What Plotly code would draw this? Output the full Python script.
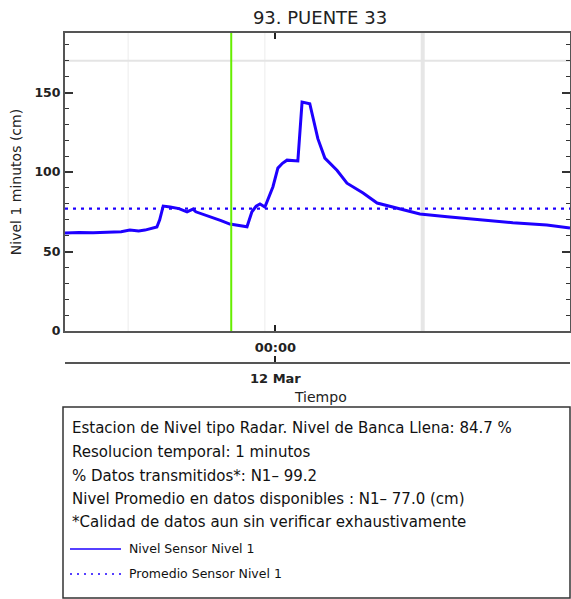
import plotly.graph_objects as go

# ---------------- data ----------------
times = [
    "2024-03-11 14:00", "2024-03-11 14:40", "2024-03-11 15:20", "2024-03-11 16:00",
    "2024-03-11 16:40", "2024-03-11 17:05", "2024-03-11 17:30", "2024-03-11 17:48",
    "2024-03-11 18:10", "2024-03-11 18:22", "2024-03-11 18:30", "2024-03-11 18:40",
    "2024-03-11 19:00", "2024-03-11 19:25", "2024-03-11 19:48", "2024-03-11 20:05",
    "2024-03-11 20:13", "2024-03-11 20:54", "2024-03-11 21:25", "2024-03-11 21:50",
    "2024-03-11 22:15", "2024-03-11 22:39", "2024-03-11 22:53", "2024-03-11 23:05",
    "2024-03-11 23:16", "2024-03-11 23:30", "2024-03-11 23:53", "2024-03-12 00:07",
    "2024-03-12 00:20", "2024-03-12 00:33", "2024-03-12 01:04", "2024-03-12 01:16",
    "2024-03-12 01:38", "2024-03-12 02:01", "2024-03-12 02:21", "2024-03-12 02:56",
    "2024-03-12 03:24", "2024-03-12 04:10", "2024-03-12 04:50", "2024-03-12 05:47",
    "2024-03-12 06:52", "2024-03-12 08:10", "2024-03-12 09:43", "2024-03-12 11:17",
    "2024-03-12 12:54", "2024-03-12 14:00",
]
nivel = [
    61.6, 62.0, 61.8, 62.3,
    62.5, 63.5, 63.0, 63.5,
    64.5, 65.4, 70.0, 78.6,
    78.0, 77.0, 75.0, 76.7,
    75.0, 72.0, 69.5, 67.3,
    66.5, 65.6, 75.0, 78.5,
    79.9, 78.0, 90.8, 102.5,
    105.5, 107.5, 107.0, 144.0,
    143.0, 121.0, 108.8, 101.0,
    93.0, 86.8, 80.5, 77.4,
    73.6, 71.9, 69.8, 68.1,
    66.7, 64.8,
]
promedio = 77.0
banca_llena = 170.0
t_inicio = "2024-03-11 14:00"
t_fin = "2024-03-12 14:00"
linea_verde = "2024-03-11 21:54"
lineas_grises = ["2024-03-11 17:00", "2024-03-11 23:30"]
linea_gris_gruesa = "2024-03-12 07:00"
tick_hora = ["2024-03-12 00:00"]
tick_hora_txt = ["00:00"]
tick_dia_txt = ["12 Mar"]

info_lines = [
    "Estacion de Nivel tipo Radar. Nivel de Banca Llena: 84.7 %",
    "Resolucion temporal: 1 minutos",
    "% Datos transmitidos*: N1\u2013 99.2",
    "Nivel Promedio en datos disponibles : N1\u2013 77.0 (cm)",
    "*Calidad de datos aun sin verificar exhaustivamente",
]
legend_names = ["Nivel Sensor Nivel 1", "Promedio Sensor Nivel 1"]

# ---------------- layout constants ----------------
W, H = 571, 599
L, R, T = 65, 1, 33
PH = H - T  # paper height (b=0)
def py(y):
    return (H - y) / PH
def px(x):
    return (x - L) / (W - L - R)

BLUE = "rgb(30,0,255)"
FONT = "DejaVu Sans"
AX = "#555555"

fig = go.Figure()
fig.add_trace(go.Scatter(x=times, y=nivel, mode="lines",
                         line=dict(color=BLUE, width=3), name=legend_names[0],
                         showlegend=False))
fig.add_trace(go.Scatter(x=[t_inicio, t_fin], y=[promedio, promedio], mode="lines",
                         line=dict(color=BLUE, width=2.2, dash="3px,5px"),
                         name=legend_names[1], showlegend=False,
                         xaxis="x2", yaxis="y"))

shapes = []
for t in lineas_grises:
    shapes.append(dict(type="line", xref="x", yref="y domain", x0=t, x1=t, y0=0, y1=1,
                       line=dict(color="#ececec", width=1), layer="below"))
shapes.append(dict(type="line", xref="x", yref="y domain", x0=linea_gris_gruesa,
                   x1=linea_gris_gruesa, y0=0, y1=1,
                   line=dict(color="#e6e6e6", width=4), layer="below"))
shapes.append(dict(type="line", xref="x domain", yref="y", x0=0, x1=1,
                   y0=banca_llena, y1=banca_llena,
                   line=dict(color="#e4e4e4", width=2), layer="below"))
shapes.append(dict(type="line", xref="x", yref="y domain", x0=linea_verde, x1=linea_verde,
                   y0=0, y1=1, line=dict(color="#66ee00", width=2)))
# info box
shapes.append(dict(type="rect", xref="paper", yref="paper",
                   x0=px(63), x1=px(570), y0=py(598), y1=py(407),
                   line=dict(color="#333333", width=1.5)))
# legend samples
shapes.append(dict(type="line", xref="paper", yref="paper", x0=px(70), x1=px(121),
                   y0=py(549), y1=py(549), line=dict(color=BLUE, width=1.5)))
shapes.append(dict(type="line", xref="paper", yref="paper", x0=px(70), x1=px(121),
                   y0=py(574), y1=py(574), line=dict(color=BLUE, width=1.5, dash="2px,5px")))

annotations = []
for i, (txt, yy) in enumerate(zip(info_lines, [428, 452, 476, 499, 522])):
    annotations.append(dict(text=txt, xref="paper", yref="paper", x=px(70), y=py(yy),
                            xanchor="left", yanchor="middle", showarrow=False,
                            font=dict(family=FONT, size=15, color="#111")))
for txt, yy in zip(legend_names, [548, 573]):
    annotations.append(dict(text=txt, xref="paper", yref="paper", x=px(127), y=py(yy),
                            xanchor="left", yanchor="middle", showarrow=False,
                            font=dict(family=FONT, size=12.5, color="#111")))
annotations.append(dict(text="Tiempo", xref="paper", yref="paper", x=px(320), y=py(397),
                        xanchor="center", yanchor="middle", showarrow=False,
                        font=dict(family=FONT, size=14, color="#222")))

TICKFONT = dict(family=FONT, size=13, color="#222", weight="bold")

fig.update_layout(
    width=W, height=H,
    margin=dict(l=L, r=R, t=T, b=0),
    paper_bgcolor="white", plot_bgcolor="white",
    title=dict(text="93. PUENTE 33", x=px(320), xanchor="center", xref="paper",
               y=1 - 18 / H, yanchor="middle",
               font=dict(family=FONT, size=18, color="#222")),
    showlegend=False,
    shapes=shapes, annotations=annotations,
    xaxis=dict(range=[t_inicio, t_fin], type="date",
               tickvals=tick_hora, ticktext=tick_hora_txt,
               ticks="inside", ticklen=6, tickwidth=1.5, tickcolor="#222",
               showline=True, linecolor=AX, linewidth=2, mirror="ticks",
               showgrid=False, zeroline=False, automargin=False,
               ticklabelstandoff=3, tickfont=TICKFONT),
    xaxis2=dict(range=[t_inicio, t_fin], type="date", overlaying="x",
                anchor="free", position=py(363), side="bottom",
                tickvals=tick_hora, ticktext=tick_dia_txt,
                ticks="inside", ticklen=6, tickwidth=1.5, tickcolor="#222",
                showline=True, linecolor=AX, linewidth=2,
                showgrid=False, zeroline=False, automargin=False,
                ticklabelstandoff=3, tickfont=TICKFONT),
    yaxis=dict(range=[0, 187.5], domain=[py(331), 1],
               tickvals=[0, 50, 100, 150], ticks="inside", ticklen=8, tickwidth=1.5,
               tickcolor="#333",
               minor=dict(ticks="inside", dtick=10, ticklen=4, tickcolor="#333", tickwidth=1),
               showline=True, linecolor=AX, linewidth=2, mirror="ticks",
               showgrid=False, zeroline=False, automargin=False,
               tickfont=dict(family=FONT, size=12.5, color="#222", weight="bold"),
               title=dict(text="Nivel 1 minutos (cm)", standoff=10,
                          font=dict(family=FONT, size=14, color="#222"))),
)

fig.write_html("out.html", config={"displayModeBar": False},
               post_script="document.body.style.margin='0';document.body.style.overflow='hidden';")
